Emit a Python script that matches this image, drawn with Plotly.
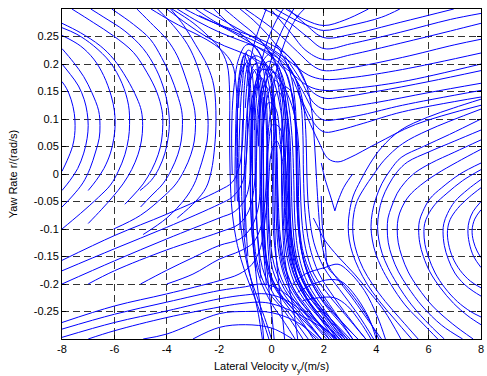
import plotly.graph_objects as go

# ---------------- axis ticks ----------------
X_TICKS = [-8, -6, -4, -2, 0, 2, 4, 6, 8]
X_TICK_TEXT = ["-8", "-6", "-4", "-2", "0", "2", "4", "6", "8"]
Y_TICKS = [-0.25, -0.2, -0.15, -0.1, -0.05, 0, 0.05, 0.1, 0.15, 0.2, 0.25]
Y_TICK_TEXT = ["-0.25", "-0.2", "-0.15", "-0.1", "-0.05", "0", "0.05", "0.1", "0.15", "0.2", "0.25"]

# ---------------- trajectories (v_y [m/s], r [rad/s]) ----------------
LEFT_ARCS = [
    [(-8, 0.005), (-7.8, 0.025), (-7.6, 0.05), (-7.52, 0.07), (-7.5, 0.088), (-7.53, 0.11), (-7.65, 0.135), (-7.82, 0.155), (-8, 0.168)],
    [(-8, -0.03), (-7.7, -0.012), (-7.4, 0.01), (-7.17, 0.038), (-7.04, 0.065), (-7.0, 0.088), (-7.04, 0.112), (-7.15, 0.135), (-7.37, 0.16), (-7.68, 0.181), (-8, 0.2)],
    [(-8, -0.06), (-7.6, -0.04), (-7.2, -0.016), (-6.93, 0.01), (-6.72, 0.04), (-6.58, 0.065), (-6.55, 0.088), (-6.6, 0.115), (-6.86, 0.148), (-7.17, 0.177), (-7.56, 0.203), (-8, 0.228)],
    [(-7.0, -0.03), (-6.7, -0.012), (-6.4, 0.01), (-6.15, 0.038), (-6.02, 0.065), (-5.97, 0.09), (-6.0, 0.115), (-6.12, 0.142), (-6.41, 0.179), (-6.79, 0.209), (-7.3, 0.233), (-8, 0.252)],
    [(-8, -0.1), (-7.3, -0.072), (-6.6, -0.042), (-6.15, -0.02), (-5.85, 0.005), (-5.6, 0.035), (-5.46, 0.065), (-5.42, 0.09), (-5.46, 0.125), (-5.71, 0.165), (-6.16, 0.203), (-6.79, 0.233), (-7.43, 0.254), (-8, 0.266)],
    [(-7, -0.09), (-6.5, -0.065), (-6.07, -0.042), (-5.67, -0.018), (-5.34, 0.008), (-5.1, 0.035), (-4.97, 0.06), (-4.92, 0.088), (-4.97, 0.115), (-5.14, 0.138), (-5.52, 0.173), (-6.03, 0.209), (-6.54, 0.233), (-7.3, 0.257), (-8, 0.274)],
    [(-5.6, -0.055), (-5.3, -0.04), (-4.9, -0.018), (-4.57, 0.008), (-4.33, 0.035), (-4.2, 0.06), (-4.15, 0.09), (-4.18, 0.115), (-4.38, 0.149), (-4.76, 0.185), (-5.27, 0.221), (-6.03, 0.251), (-6.79, 0.275), (-7.62, 0.3)],
    [(-5.02, -0.03), (-4.6, -0.012), (-4.3, 0.01), (-4.07, 0.038), (-3.95, 0.065), (-3.9, 0.09), (-3.93, 0.115), (-4.08, 0.15), (-4.4, 0.19), (-4.9, 0.228), (-5.6, 0.26), (-6.4, 0.285), (-6.9, 0.3)],
    [(-5.0, -0.06), (-4.6, -0.04), (-4.15, -0.018), (-3.82, 0.008), (-3.58, 0.035), (-3.45, 0.06), (-3.4, 0.09), (-3.43, 0.115), (-3.6, 0.145), (-3.85, 0.178), (-4.2, 0.212), (-4.63, 0.245), (-5.27, 0.272), (-6.1, 0.3)],
    [(-6.03, -0.1), (-5.0, -0.075), (-4.1, -0.04), (-3.65, -0.018), (-3.32, 0.008), (-3.08, 0.035), (-2.95, 0.06), (-2.9, 0.09), (-2.93, 0.115), (-3.08, 0.145), (-3.3, 0.178), (-3.6, 0.215), (-4.0, 0.245), (-4.51, 0.27), (-5.14, 0.3)],
    [(-4.9, -0.11), (-4.0, -0.08), (-3.3, -0.045), (-2.95, -0.018), (-2.75, 0.008), (-2.58, 0.035), (-2.46, 0.06), (-2.42, 0.09), (-2.45, 0.115), (-2.58, 0.152), (-2.82, 0.195), (-3.2, 0.235), (-3.75, 0.27), (-4.35, 0.3)],
    [(-3.6, -0.08), (-2.9, -0.05), (-2.5, -0.025), (-2.3, 0.005), (-2.17, 0.05), (-2.12, 0.1), (-2.2, 0.16), (-2.45, 0.197), (-2.9, 0.235), (-3.35, 0.27), (-3.85, 0.3)],
]

LOWER_LEFT = [
    [(-8, -0.157), (-6, -0.112), (-4, -0.073), (-2, -0.03), (-1.5, -0.015), (-1.25, 0.01), (-1.12, 0.05), (-1.07, 0.1), (-1.05, 0.15), (-0.95, 0.19), (-0.75, 0.21), (-0.55, 0.2), (-0.4, 0.16), (-0.33, 0.1), (-0.3, 0.0), (-0.27, -0.1), (-0.12, -0.17), (0.3, -0.215), (0.9, -0.25), (1.6, -0.3)],
    [(-8, -0.176), (-6, -0.136), (-4, -0.097), (-2, -0.055), (-1.5, -0.042), (-1.15, -0.02), (-0.98, 0.02), (-0.92, 0.08), (-0.9, 0.13), (-0.8, 0.17), (-0.6, 0.19), (-0.4, 0.175), (-0.25, 0.13), (-0.18, 0.06), (-0.15, -0.03), (-0.1, -0.11), (0.05, -0.175), (0.5, -0.22), (1.1, -0.255), (1.9, -0.3)],
    [(-8, -0.2), (-6, -0.158), (-4, -0.118), (-2, -0.08), (-1.4, -0.068), (-1.0, -0.045), (-0.82, -0.01), (-0.75, 0.05), (-0.73, 0.11), (-0.62, 0.155), (-0.4, 0.175), (-0.2, 0.16), (-0.05, 0.11), (0.02, 0.04), (0.05, -0.05), (0.1, -0.12), (0.3, -0.18), (0.75, -0.222), (1.35, -0.258), (2.1, -0.3)],
    [(-7, -0.2), (-6, -0.176), (-4, -0.138), (-2, -0.106), (-1.24, -0.091), (-0.87, -0.067), (-0.68, -0.03), (-0.6, 0.02), (-0.57, 0.08), (-0.5, 0.13), (-0.3, 0.16), (-0.05, 0.15), (0.12, 0.1), (0.2, 0.03), (0.22, -0.05), (0.28, -0.12), (0.5, -0.18), (0.95, -0.222), (1.6, -0.26), (2.3, -0.3)],
    [(-5, -0.2), (-4, -0.175), (-3, -0.152), (-2, -0.13), (-1.2, -0.118), (-0.75, -0.095), (-0.5, -0.06), (-0.42, -0.01), (-0.38, 0.05), (-0.3, 0.1), (-0.1, 0.13), (0.15, 0.12), (0.32, 0.07), (0.4, 0.0), (0.45, -0.08), (0.55, -0.14), (0.85, -0.195), (1.35, -0.235), (2.0, -0.27), (2.6, -0.3)],
    [(-4, -0.2), (-3, -0.182), (-2, -0.155), (-1.2, -0.14), (-0.7, -0.125), (-0.4, -0.095), (-0.25, -0.05), (-0.18, 0.0), (-0.12, 0.05), (0.05, 0.09), (0.3, 0.085), (0.5, 0.04), (0.6, -0.03), (0.68, -0.1), (0.9, -0.16), (1.3, -0.205), (1.9, -0.245), (2.6, -0.28), (3.0, -0.3)],
    [(-8, -0.27), (-6, -0.24), (-4, -0.218), (-2, -0.194), (-1.24, -0.182), (-0.74, -0.164), (-0.42, -0.134), (-0.25, -0.085), (-0.12, -0.02), (0.0, 0.04), (0.2, 0.06), (0.4, 0.03), (0.5, -0.04), (0.6, -0.11), (0.85, -0.17), (1.3, -0.215), (1.9, -0.25), (2.6, -0.29), (2.8, -0.3)],
    [(-8, -0.282), (-6, -0.255), (-4, -0.233), (-2, -0.212), (-1.0, -0.205), (-0.4, -0.2), (0.1, -0.205), (0.6, -0.22), (1.2, -0.245), (1.9, -0.275), (2.5, -0.3)],
    [(-8, -0.297), (-6, -0.27), (-4, -0.249), (-2, -0.227), (-1.0, -0.22), (-0.2, -0.218), (0.5, -0.228), (1.2, -0.25), (2.0, -0.28), (2.5, -0.3)],
    [(-7, -0.3), (-6, -0.285), (-4, -0.261), (-2, -0.242), (-1.24, -0.236), (-0.49, -0.233), (0.02, -0.236), (1.03, -0.255), (2.29, -0.291), (2.45, -0.3)],
    [(-4.9, -0.3), (-4, -0.291), (-2, -0.254), (-1, -0.25), (0, -0.252), (1, -0.27), (1.8, -0.3)],
    [(-3, -0.3), (-2, -0.279), (-1, -0.274), (0, -0.28), (0.8, -0.3)],
]

BAND_LOOPS = [
    [(-1.4, -0.05), (-1.38, 0.05), (-1.33, 0.13), (-1.2, 0.19), (-1.05, 0.215), (-0.88, 0.195), (-0.78, 0.14), (-0.74, 0.06), (-0.73, -0.03), (-0.68, -0.11), (-0.5, -0.17), (-0.1, -0.215), (0.5, -0.25), (1.2, -0.3)],
    [(-1.2, -0.1), (-1.25, 0.0), (-1.22, 0.08), (-1.12, 0.16), (-0.9, 0.225), (-0.65, 0.215), (-0.5, 0.16), (-0.45, 0.08), (-0.44, 0.0), (-0.4, -0.08), (-0.28, -0.15), (0.05, -0.2), (0.6, -0.24), (1.3, -0.28), (1.7, -0.3)],
    [(-1.0, -0.115), (-1.05, -0.03), (-1.0, 0.06), (-0.88, 0.14), (-0.65, 0.2), (-0.4, 0.2), (-0.22, 0.15), (-0.15, 0.07), (-0.13, -0.02), (-0.08, -0.1), (0.1, -0.165), (0.5, -0.21), (1.1, -0.25), (1.9, -0.3)],
    [(-0.6, -0.176), (-0.75, -0.1), (-0.8, 0.0), (-0.75, 0.08), (-0.6, 0.15), (-0.35, 0.19), (-0.1, 0.185), (0.1, 0.14), (0.18, 0.07), (0.2, -0.01), (0.25, -0.09), (0.42, -0.155), (0.8, -0.205), (1.4, -0.245), (2.2, -0.3)],
    [(-0.4, -0.19), (-0.55, -0.1), (-0.58, 0.0), (-0.52, 0.09), (-0.35, 0.16), (-0.1, 0.195), (0.15, 0.18), (0.35, 0.13), (0.45, 0.06), (0.48, -0.02), (0.53, -0.1), (0.7, -0.16), (1.05, -0.205), (1.6, -0.245), (2.4, -0.3)],
    [(-0.2, -0.2), (-0.35, -0.1), (-0.38, 0.0), (-0.3, 0.09), (-0.1, 0.15), (0.15, 0.17), (0.4, 0.15), (0.55, 0.09), (0.62, 0.02), (0.65, -0.06), (0.72, -0.13), (0.95, -0.185), (1.4, -0.23), (2.0, -0.265), (2.6, -0.3)],
    [(0.0, -0.21), (-0.15, -0.12), (-0.2, -0.03), (-0.15, 0.06), (0.0, 0.12), (0.25, 0.15), (0.5, 0.13), (0.68, 0.08), (0.75, 0.0), (0.8, -0.08), (0.95, -0.15), (1.3, -0.2), (1.9, -0.245), (2.7, -0.3)],
    [(-1.5, 0.0), (-1.52, 0.08), (-1.45, 0.15), (-1.25, 0.21), (-0.95, 0.235), (-0.6, 0.23), (-0.3, 0.2), (-0.05, 0.15), (0.1, 0.08), (0.15, 0.0), (0.18, -0.08), (0.3, -0.15), (0.6, -0.2), (1.1, -0.24), (1.8, -0.28), (2.2, -0.3)],
    [(-1.3, -0.05), (-1.35, 0.05), (-1.25, 0.14), (-1.0, 0.2), (-0.6, 0.215), (-0.2, 0.2), (0.15, 0.16), (0.4, 0.1), (0.5, 0.03), (0.55, -0.05), (0.62, -0.12), (0.85, -0.18), (1.3, -0.225), (2.0, -0.27), (2.6, -0.3)],
    [(-0.9, -0.15), (-1.0, -0.06), (-0.95, 0.04), (-0.8, 0.12), (-0.5, 0.18), (-0.1, 0.205), (0.3, 0.19), (0.6, 0.14), (0.78, 0.07), (0.85, -0.01), (0.9, -0.09), (1.05, -0.15), (1.4, -0.2), (2.0, -0.245), (2.8, -0.3)],
    [(-0.8, 0.0), (-0.78, 0.08), (-0.65, 0.15), (-0.4, 0.2), (0.0, 0.22), (0.4, 0.2), (0.75, 0.15), (0.95, 0.08), (1.02, 0.0), (1.05, -0.08), (1.15, -0.14), (1.45, -0.19), (2.0, -0.235), (2.7, -0.275), (3.1, -0.3)],
    [(-0.5, 0.05), (-0.42, 0.12), (-0.2, 0.17), (0.1, 0.185), (0.4, 0.165), (0.6, 0.11), (0.68, 0.04), (0.7, -0.04), (0.75, -0.12), (0.95, -0.18), (1.35, -0.225), (1.9, -0.26), (2.5, -0.3)],
    [(-0.7, 0.12), (-0.72, 0.05), (-0.72, -0.05), (-0.68, -0.13), (-0.55, -0.2), (-0.4, -0.25), (-0.3, -0.3)],
    [(-0.3, 0.14), (-0.32, 0.05), (-0.3, -0.05), (-0.25, -0.13), (-0.12, -0.2), (0.0, -0.25), (0.1, -0.3)],
    [(0.1, 0.13), (0.08, 0.04), (0.1, -0.05), (0.15, -0.13), (0.28, -0.2), (0.4, -0.25), (0.5, -0.3)],
    [(-1.1, 0.1), (-1.15, 0.0), (-1.1, -0.08), (-0.95, -0.15), (-0.7, -0.21), (-0.5, -0.255), (-0.35, -0.3)],
    [(0.4, 0.1), (0.38, 0.02), (0.4, -0.06), (0.48, -0.14), (0.65, -0.2), (0.85, -0.25), (1.0, -0.3)],
    [(-1.2, 0.18), (-1.0, 0.22), (-0.8, 0.2), (-0.65, 0.12), (-0.62, 0.0), (-0.55, -0.1), (-0.35, -0.17), (0.1, -0.22), (0.7, -0.255), (1.4, -0.3)],
    [(-0.2, 0.23), (0.1, 0.21), (0.35, 0.16), (0.5, 0.08), (0.55, 0.0), (0.6, -0.08), (0.75, -0.15), (1.1, -0.2), (1.7, -0.24), (2.5, -0.29), (2.7, -0.3)],
    [(0.3, 0.2), (0.6, 0.18), (0.85, 0.12), (0.95, 0.04), (0.97, -0.04), (1.05, -0.11), (1.3, -0.17), (1.8, -0.22), (2.5, -0.26), (3.3, -0.3)],
    [(-0.9, 0.16), (-0.7, 0.19), (-0.5, 0.17), (-0.4, 0.1), (-0.38, 0.0), (-0.33, -0.09), (-0.18, -0.16), (0.2, -0.21), (0.8, -0.245), (1.5, -0.28), (1.9, -0.3)],
    [(-0.05, 0.19), (0.2, 0.2), (0.42, 0.17), (0.6, 0.1), (0.66, 0.02), (0.7, -0.06), (0.82, -0.13), (1.1, -0.185), (1.6, -0.23), (2.3, -0.27), (2.9, -0.3)],
    [(-1.25, 0.12), (-1.2, 0.18), (-1.0, 0.2), (-0.85, 0.15), (-0.82, 0.05), (-0.8, -0.05), (-0.7, -0.13), (-0.45, -0.19), (0.0, -0.235), (0.5, -0.27), (0.9, -0.3)],
    [(0.5, 0.16), (0.75, 0.15), (0.9, 0.1), (0.95, 0.0), (1.0, -0.08), (1.15, -0.14), (1.5, -0.19), (2.1, -0.235), (2.9, -0.28), (3.3, -0.3)],
]

TOP_LEFT = [
    [(-4.0, 0.3), (-3.2, 0.272), (-2.5, 0.25), (-1.8, 0.233), (-1.0, 0.218), (-0.3, 0.2), (0.3, 0.172), (0.7, 0.135), (0.95, 0.09), (1.05, 0.04), (1.1, -0.02), (1.15, -0.08), (1.3, -0.135), (1.6, -0.18), (2.1, -0.215), (2.8, -0.255), (3.6, -0.3)],
    [(-3.6, 0.3), (-2.8, 0.277), (-2.0, 0.258), (-1.2, 0.243), (-0.4, 0.228), (0.4, 0.205), (0.95, 0.17), (1.22, 0.125), (1.32, 0.065), (1.35, 0.0), (1.42, -0.065), (1.62, -0.125), (2.0, -0.17), (2.6, -0.21), (3.3, -0.255), (3.9, -0.3)],
    [(-3.3, 0.3), (-2.6, 0.283), (-1.8, 0.268), (-1.0, 0.255), (-0.2, 0.24), (0.5, 0.22), (1.0, 0.195), (1.35, 0.16), (1.55, 0.11), (1.65, 0.05), (1.72, -0.01), (1.8, -0.07), (1.9, -0.12), (2.1, -0.16), (2.5, -0.19), (3.0, -0.22), (3.6, -0.26), (4.2, -0.3)],
    [(-2.9, 0.3), (-2.2, 0.278), (-1.5, 0.26), (-0.8, 0.245), (-0.1, 0.228), (0.5, 0.205), (0.9, 0.175), (1.12, 0.13), (1.2, 0.07), (1.22, 0.0), (1.28, -0.07), (1.45, -0.13), (1.8, -0.18), (2.4, -0.225), (3.1, -0.27), (3.6, -0.3)],
    [(-2.2, 0.3), (-1.6, 0.272), (-1.0, 0.248), (-0.5, 0.222), (-0.1, 0.183), (0.1, 0.125), (0.2, 0.055), (0.25, -0.04), (0.35, -0.12), (0.6, -0.18), (1.1, -0.23), (1.8, -0.27), (2.4, -0.3)],
    [(-1.8, 0.3), (-1.2, 0.276), (-0.6, 0.252), (-0.1, 0.222), (0.3, 0.182), (0.5, 0.122), (0.6, 0.05), (0.65, -0.03), (0.75, -0.11), (1.0, -0.17), (1.5, -0.22), (2.2, -0.26), (2.9, -0.3)],
    [(-1.2, 0.3), (-0.7, 0.28), (-0.2, 0.256), (0.3, 0.226), (0.7, 0.186), (0.9, 0.13), (0.95, 0.06), (0.98, -0.02), (1.05, -0.09), (1.25, -0.15), (1.7, -0.2), (2.4, -0.25), (3.1, -0.3)],
    [(-4.6, 0.3), (-3.9, 0.28), (-3.2, 0.262), (-2.5, 0.245), (-1.9, 0.225), (-1.5, 0.2), (-1.35, 0.16), (-1.3, 0.1), (-1.3, 0.03), (-1.25, -0.05), (-1.1, -0.12), (-0.85, -0.18), (-0.5, -0.23), (-0.2, -0.27), (0.0, -0.3)],
    [(-3.8, 0.3), (-3.0, 0.275), (-2.4, 0.25), (-2.0, 0.23), (-1.7, 0.2), (-1.6, 0.15), (-1.6, 0.08), (-1.58, 0.0), (-1.5, -0.07), (-1.3, -0.13), (-1.0, -0.18), (-0.6, -0.23), (-0.3, -0.27), (-0.1, -0.3)],
]

UP_LINES = [
    [(-0.3, 0.1), (-0.22, 0.16), (0.0, 0.21), (0.3, 0.25), (0.6, 0.28), (0.85, 0.3)],
    [(-0.65, 0.08), (-0.55, 0.15), (-0.35, 0.21), (-0.05, 0.255), (0.25, 0.285), (0.45, 0.3)],
    [(0.0, 0.12), (0.15, 0.18), (0.4, 0.225), (0.7, 0.262), (1.0, 0.287), (1.25, 0.3)],
    [(-1.0, 0.12), (-0.9, 0.18), (-0.7, 0.23), (-0.45, 0.268), (-0.2, 0.3)],
]

UPPER_RIGHT = [
    [(0.55, 0.3), (1.3, 0.28), (2.0, 0.27), (2.8, 0.28), (3.7, 0.3)],
    [(0.15, 0.3), (1.0, 0.278), (1.6, 0.266), (2.0, 0.261), (3.0, 0.27), (4.2, 0.285), (4.9, 0.3)],
    [(0.65, 0.3), (1.28, 0.273), (2.0, 0.248), (3.05, 0.254), (4.94, 0.276), (6.96, 0.3)],
    [(-0.3, 0.3), (0.6, 0.278), (1.35, 0.25), (2.0, 0.228), (3.05, 0.237), (4.94, 0.258), (6.83, 0.281), (8.0, 0.292)],
    [(0.02, 0.297), (0.77, 0.255), (1.28, 0.226), (2.0, 0.208), (3.05, 0.217), (4.94, 0.238), (6.83, 0.26), (8.0, 0.274)],
    [(-1.0, 0.3), (0.1, 0.262), (1.0, 0.222), (1.6, 0.196), (2.0, 0.188), (3.0, 0.193), (5.0, 0.212), (7.0, 0.235), (8.0, 0.245)],
    [(-2.6, 0.3), (-1.5, 0.27), (-0.4, 0.24), (0.6, 0.208), (1.4, 0.18), (2.0, 0.172), (3.0, 0.175), (5.0, 0.19), (8.0, 0.22)],
    [(-2.76, 0.288), (-1.5, 0.258), (-0.23, 0.221), (0.6, 0.19), (1.4, 0.16), (2.0, 0.152), (3.0, 0.155), (5.0, 0.168), (8.0, 0.2)],
    [(0.2, 0.235), (0.9, 0.2), (1.5, 0.152), (2.0, 0.138), (2.7, 0.14), (4.0, 0.15), (6.0, 0.168), (8.0, 0.188)],
    [(0.5, 0.215), (1.1, 0.172), (1.6, 0.13), (2.0, 0.118), (2.6, 0.12), (4.0, 0.13), (6.0, 0.148), (8.0, 0.165)],
    [(0.6, 0.2), (1.2, 0.15), (1.7, 0.108), (2.0, 0.098), (2.6, 0.1), (3.5, 0.108), (5.0, 0.125), (8.0, 0.152)],
    [(0.8, 0.175), (1.3, 0.12), (1.75, 0.085), (2.05, 0.076), (2.6, 0.08), (3.5, 0.092), (5.0, 0.113), (8.0, 0.14)],
    [(1.0, 0.15), (1.4, 0.1), (1.78, 0.061), (2.16, 0.028), (2.54, 0.022), (3.0, 0.03), (4.0, 0.055), (5.5, 0.09), (8.0, 0.125)],
]

RIGHT_ARCS = [
    [(8.0, 0.136), (6.95, 0.12), (5.95, 0.103), (4.94, 0.08), (4.2, 0.048), (3.75, 0.018), (3.4, -0.012), (3.12, -0.04), (2.98, -0.068), (2.93, -0.095), (2.97, -0.12), (3.1, -0.145), (3.33, -0.172), (3.65, -0.2), (4.1, -0.23), (4.7, -0.264), (5.35, -0.3)],
    [(8.0, 0.118), (6.0, 0.08), (5.0, 0.055), (4.3, 0.025), (3.88, -0.002), (3.55, -0.025), (3.28, -0.048), (3.15, -0.07), (3.1, -0.095), (3.14, -0.12), (3.27, -0.145), (3.5, -0.172), (3.85, -0.2), (4.35, -0.232), (4.95, -0.265), (5.6, -0.3)],
    [(8.0, 0.1), (6.8, 0.072), (5.8, 0.05), (4.95, 0.03), (4.55, 0.008), (4.22, -0.017), (3.98, -0.045), (3.85, -0.07), (3.8, -0.095), (3.85, -0.12), (3.98, -0.145), (4.2, -0.17), (4.55, -0.2), (5.1, -0.238), (5.8, -0.273), (6.35, -0.3)],
    [(8.0, 0.08), (7.0, 0.06), (6.0, 0.04), (5.2, 0.022), (4.8, 0.004), (4.47, -0.02), (4.23, -0.045), (4.1, -0.07), (4.05, -0.095), (4.1, -0.12), (4.23, -0.145), (4.45, -0.17), (4.8, -0.2), (5.35, -0.238), (6.05, -0.275), (6.6, -0.3)],
    [(8.0, 0.062), (7.0, 0.04), (6.1, 0.02), (5.5, 0.003), (5.1, -0.015), (4.8, -0.035), (4.58, -0.06), (4.45, -0.08), (4.42, -0.1), (4.46, -0.125), (4.6, -0.15), (4.85, -0.178), (5.2, -0.205), (5.75, -0.24), (6.5, -0.275), (7.3, -0.3)],
    [(8.0, 0.045), (7.1, 0.022), (6.3, 0.0), (5.7, -0.02), (5.25, -0.04), (4.97, -0.062), (4.84, -0.08), (4.8, -0.1), (4.84, -0.125), (4.98, -0.15), (5.22, -0.178), (5.6, -0.207), (6.15, -0.24), (6.9, -0.272), (7.7, -0.3)],
    [(8.0, 0.02), (7.2, 0.0), (6.5, -0.025), (6.05, -0.045), (5.78, -0.068), (5.65, -0.085), (5.62, -0.1), (5.66, -0.125), (5.8, -0.15), (6.05, -0.178), (6.45, -0.207), (6.95, -0.235), (7.5, -0.258), (8.0, -0.274)],
    [(8.0, 0.008), (7.3, -0.012), (6.7, -0.035), (6.25, -0.055), (5.97, -0.075), (5.85, -0.09), (5.82, -0.105), (5.86, -0.128), (6.0, -0.152), (6.25, -0.18), (6.62, -0.207), (7.1, -0.232), (7.6, -0.25), (8.0, -0.26)],
    [(8.0, -0.01), (7.5, -0.028), (7.0, -0.05), (6.72, -0.072), (6.58, -0.09), (6.55, -0.105), (6.6, -0.13), (6.75, -0.155), (7.0, -0.18), (7.35, -0.2), (7.7, -0.213), (8.0, -0.222)],
    [(8.0, -0.025), (7.55, -0.042), (7.1, -0.063), (6.82, -0.083), (6.72, -0.103), (6.76, -0.127), (6.92, -0.152), (7.2, -0.175), (7.6, -0.195), (8.0, -0.207)],
    [(8.0, -0.05), (7.7, -0.068), (7.55, -0.085), (7.5, -0.102), (7.55, -0.125), (7.72, -0.15), (8.0, -0.17)],
    [(8.0, -0.065), (7.76, -0.082), (7.66, -0.102), (7.71, -0.122), (7.85, -0.14), (8.0, -0.152)],
]

SADDLE_LINES = [
    [(1.6, -0.08), (1.78, -0.097), (2.03, -0.12), (2.54, -0.15), (3.17, -0.182), (3.8, -0.218), (4.31, -0.249), (4.94, -0.3)],
    [(1.9, 0.02), (2.05, -0.01), (2.25, -0.04), (2.42, -0.067)],
    [(2.42, -0.067), (2.54, -0.049), (2.75, -0.025), (2.92, -0.012), (3.1, 0.0)],
    [(1.9, -0.04), (1.95, -0.1), (2.06, -0.133), (2.16, -0.17), (2.54, -0.19), (3.0, -0.215), (3.6, -0.255), (4.1, -0.3)],
    [(0.8, -0.2), (1.28, -0.182), (2.04, -0.17), (2.54, -0.164), (2.92, -0.176), (3.55, -0.212), (4.05, -0.26), (4.35, -0.3)],
    [(1.0, -0.215), (1.6, -0.2), (2.2, -0.192), (2.65, -0.195), (3.1, -0.215), (3.7, -0.26), (4.0, -0.3)],
    [(1.2, -0.23), (1.8, -0.225), (2.4, -0.225), (2.9, -0.24), (3.4, -0.27), (3.8, -0.3)],
]

FAMILIES = [LEFT_ARCS, LOWER_LEFT, BAND_LOOPS, TOP_LEFT, UP_LINES, UPPER_RIGHT, RIGHT_ARCS, SADDLE_LINES]

fig = go.Figure()
for fam in FAMILIES:
    xs, ys = [], []
    for curve in fam:
        for (vx, vr) in curve:
            xs.append(vx)
            ys.append(vr)
        xs.append(None)
        ys.append(None)
    fig.add_trace(go.Scatter(
        x=xs, y=ys, mode="lines", connectgaps=False,
        line=dict(color="#0000FF", width=1, shape="spline", smoothing=1.0),
        hoverinfo="skip", showlegend=False,
    ))

FONT = "Arial, 'Liberation Sans', sans-serif"
axis_common = dict(
    showgrid=True, gridcolor="#333333", gridwidth=1, griddash="7px,4px",
    zeroline=False, showline=True, linecolor="black", linewidth=1,
    mirror="ticks", ticks="inside", ticklen=4, tickcolor="black",
    ticklabeloverflow="allow",
    tickfont=dict(family=FONT, size=11, color="black"),
)

fig.update_xaxes(range=[-8, 8], tickvals=X_TICKS, ticktext=X_TICK_TEXT,
                 title=dict(text="Lateral Velocity v<sub>y</sub>/(m/s)", standoff=8,
                            font=dict(family=FONT, size=11, color="black")),
                 **axis_common)
fig.update_yaxes(range=[-0.3, 0.3], tickvals=Y_TICKS, ticktext=Y_TICK_TEXT,
                 title=dict(text="Yaw Rate r/(rad/s)", standoff=13,
                            font=dict(family=FONT, size=11, color="black")),
                 **axis_common)

fig.update_layout(
    width=487, height=376,
    margin=dict(l=62, r=3, t=9, b=37),
    paper_bgcolor="white", plot_bgcolor="white",
    showlegend=False,
)

fig.write_html("out.html")
